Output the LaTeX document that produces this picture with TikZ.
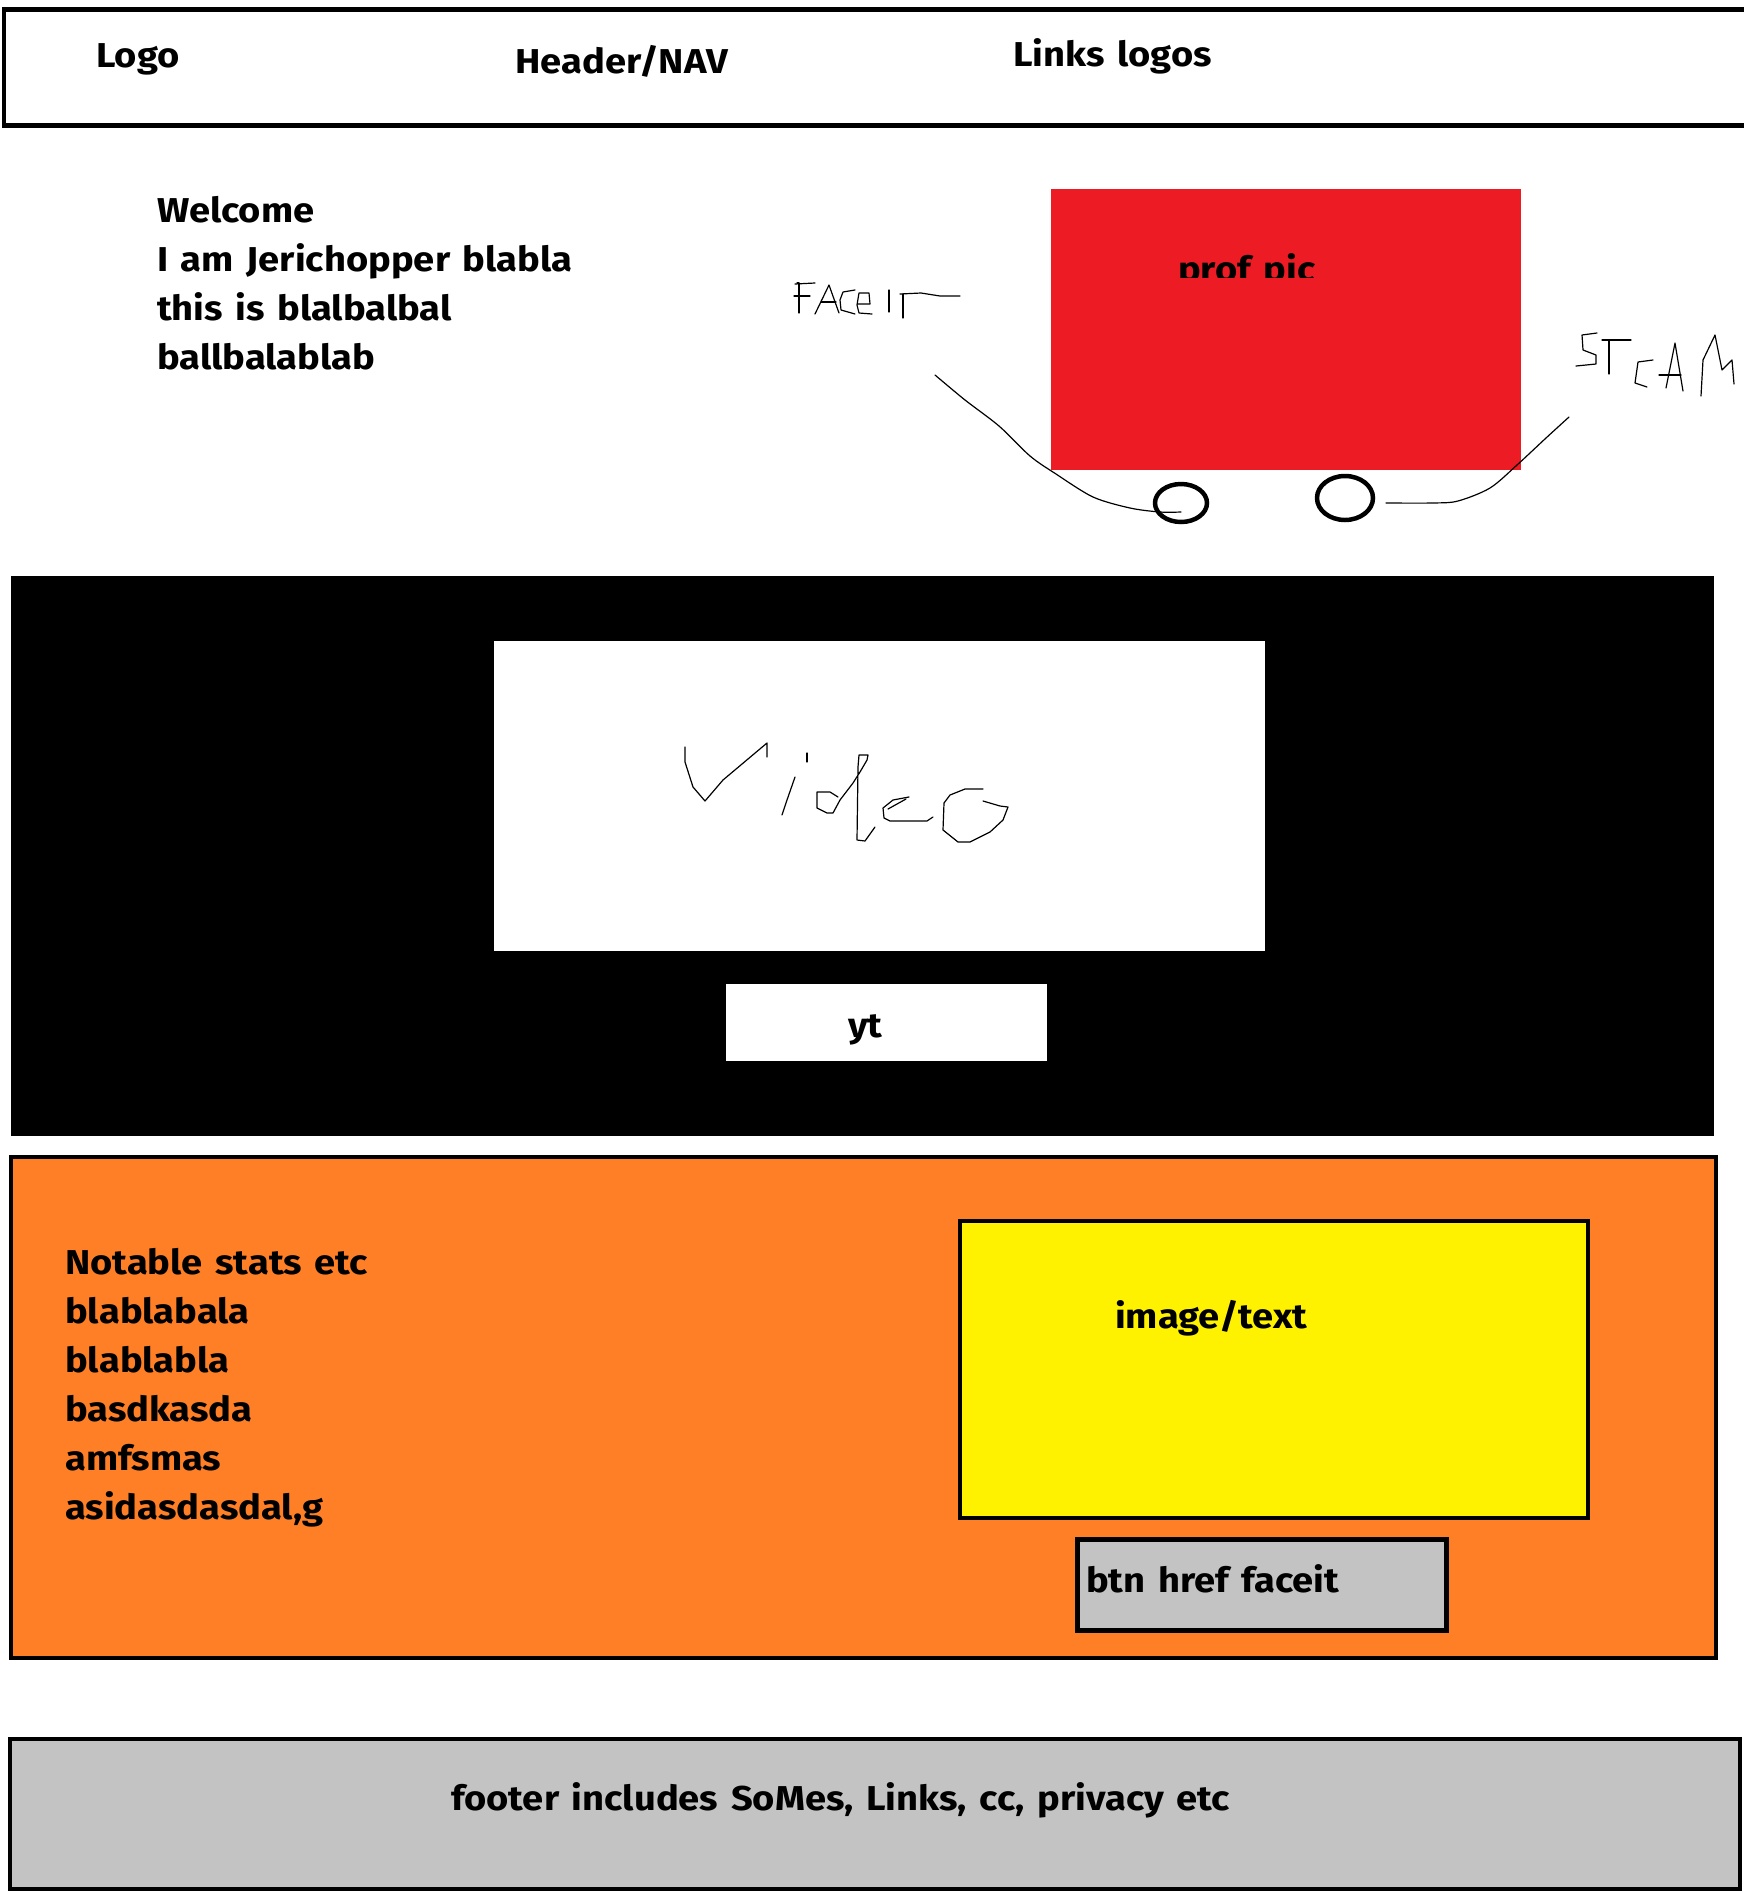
\documentclass[tikz,border=0pt]{standalone}
\usepackage{fontspec}
\setmainfont{Fira Sans}[FakeStretch=1.105, WordSpace=1.4]
\definecolor{paintred}{HTML}{ED1C24}
\definecolor{paintorange}{HTML}{FF7F27}
\definecolor{paintyellow}{HTML}{FFF200}
\definecolor{paintgrey}{HTML}{C3C3C3}
\begin{document}
\begin{tikzpicture}[x=1bp,y=-1bp,
  lbl/.style={inner sep=0pt, anchor=base west, font=\bfseries\fontsize{34.5bp}{40bp}\selectfont},
  hand/.style={draw=black, line width=1.2pt, line join=round, line cap=round},
  wheel/.style={draw=black, line width=4.5pt}]
\useasboundingbox (0,0) rectangle (1744,1892);
\fill[white] (0,0) rectangle (1744,1892);

% header bar (open to the right)
\draw[line width=5pt] (1760,9.5) -- (4,9.5) -- (4,125.5) -- (1760,125.5);
\node[lbl] (logo) at (96,67) {Logo};
\node[lbl] (nav) at (515,73) {Header/NAV};
\node[lbl] (links) at (1013,66) {Links logos};

% welcome text
\foreach \t [count=\i] in {Welcome, I am Jerichopper blabla, this is blalbalbal, ballbalablab}
  \node[lbl] (w\i) at (157,{222+49*(\i-1)}) {\t};

% profile picture
\fill[paintred] (1051,189) rectangle (1521,470);
\begin{scope}
  \clip (1051,189) rectangle (1521,277);
  \node[lbl] (prof) at (1178,281) {prof pic};
\end{scope}

% hand-drawn "Faceit" label and swoosh
\draw[hand] (797,283) -- (799,283) -- (799,313);
\draw[hand] (795,284) -- (815,283);
\draw[hand] (794,296) -- (810,296);
\draw[hand] (815,314) -- (829,285) -- (839,313);
\draw[hand] (821,302) -- (836,302);
\draw[hand] (855,290) -- (843,292) -- (840,300) -- (841,310) -- (855,314);
\draw[hand] (858,304) -- (870,304) -- (869,293) -- (859,293) -- (857,305) -- (859,313) -- (872,314);
\draw[hand] (889,290) -- (889,312);
\draw[hand] (900,294) -- (921,293) -- (940,296) -- (960,296);
\draw[hand] (903,294) -- (903,318);
\draw[hand] plot[smooth] coordinates {(935,375) (965,400) (999,426) (1030,456) (1056,474) (1093,497) (1130,508) (1160,512) (1181,512)};

% hand-drawn "Steam" label and swoosh
\draw[hand] (1597,333) -- (1582,335) -- (1583,350) -- (1596,355) -- (1596,364) -- (1576,366);
\draw[hand] (1602,340) -- (1631,340);
\draw[hand] (1609,340) -- (1609,374);
\draw[hand] (1653,360) -- (1638,362) -- (1635,383) -- (1647,387);
\draw[hand] (1666,388) -- (1675,343) -- (1683,391);
\draw[hand] (1659,375) -- (1681,375);
\draw[hand] (1701,396) -- (1703,360) -- (1715,335) -- (1722,370) -- (1732,360) -- (1734,384);
\draw[hand] plot[smooth] coordinates {(1386,503) (1433,503) (1458,501) (1490,488) (1517,465) (1546,438) (1569,417)};

% wheels
\draw[wheel] (1181,503) ellipse[x radius=26bp, y radius=19bp];
\draw[wheel] (1345,498) ellipse[x radius=28bp, y radius=22bp];

% video section
\fill[black] (11,576) rectangle (1714,1136);
\fill[white] (494,641) rectangle (1265,951);
\fill[white] (726,984) rectangle (1047,1061);
\node[lbl] (yt) at (848,1037) {yt};

% hand-drawn "video"
\draw[hand] (685,747) -- (685,762) -- (693,787) -- (705,801) -- (723,780) -- (767,743) -- (767,757);
\draw[hand] (795,777) -- (787,800) -- (782,815);
\draw[hand] (807,753) -- (807,762);
\draw[hand] (838,797) -- (830,792) -- (817,792) -- (817,808) -- (827,813) -- (833,813) -- (840,800) -- (853,783) -- (860,772) -- (867,760) -- (868,755) -- (859,755) -- (858,767) -- (857,840) -- (865,841) -- (875,827);
\draw[hand] (909,797) -- (893,800) -- (883,808) -- (884,818) -- (890,821) -- (927,821) -- (933,817);
\draw[hand] (906,799) -- (888,809);
\draw[hand] (983,789) -- (965,789) -- (950,795) -- (944,803) -- (943,830) -- (958,842) -- (970,842) -- (990,832) -- (1003,820) -- (1008,807) -- (1000,806) -- (983,801);

% stats section
\draw[fill=paintorange, line width=3.5pt] (11,1157) rectangle (1716,1658);
\foreach \t [count=\i] in {Notable stats etc, blablabala, blablabla, basdkasda, amfsmas, {asidasdasdal,g}}
  \node[lbl] (s\i) at (65,{1274+49.1*(\i-1)}) {\t};
\draw[fill=paintyellow, line width=4pt] (960,1221) rectangle (1588,1518);
\node[lbl] (img) at (1115,1328) {image/text};
\draw[fill=paintgrey, line width=5pt] (1077,1539) rectangle (1446,1630);
\node[lbl] (btn) at (1086,1592) {btn href faceit};

% footer
\draw[fill=paintgrey, line width=4pt] (10,1739) rectangle (1740,1889);
\node[lbl] (foot) at (451,1810) {footer includes SoMes, Links, cc, privacy etc};
\end{tikzpicture}
\end{document}
